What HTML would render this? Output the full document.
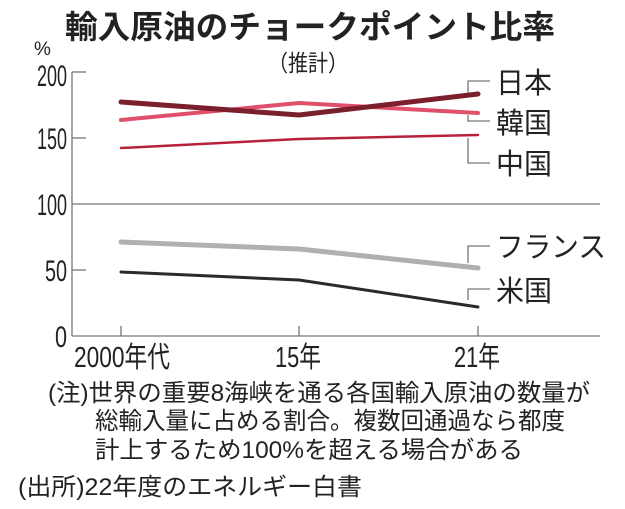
<!DOCTYPE html>
<html><head><meta charset="utf-8"><style>
html,body{margin:0;padding:0;background:#fff;}
svg{display:block;}
text{font-family:"Liberation Sans","Noto Sans CJK JP",sans-serif;fill:#222;}
</style></head><body>
<svg width="625" height="509" viewBox="0 0 625 509" xmlns="http://www.w3.org/2000/svg">
<text x="65" y="38" font-size="32" font-weight="bold" textLength="490" lengthAdjust="spacingAndGlyphs">輸入原油のチョークポイント比率</text>
<text x="268" y="71" font-size="23" textLength="80" lengthAdjust="spacingAndGlyphs">（推計）</text>
<text x="34" y="55" font-size="19">%</text>
<g font-size="30" text-anchor="end">
<text x="67" y="86" textLength="30" lengthAdjust="spacingAndGlyphs">200</text>
<text x="67" y="149" textLength="30" lengthAdjust="spacingAndGlyphs">150</text>
<text x="67" y="215" textLength="30" lengthAdjust="spacingAndGlyphs">100</text>
<text x="67" y="281" textLength="22" lengthAdjust="spacingAndGlyphs">50</text>
<text x="67" y="347" textLength="12" lengthAdjust="spacingAndGlyphs">0</text>
</g>
<g stroke="#777" stroke-width="1.3" fill="none">
<line x1="72" y1="72" x2="72" y2="336"/>
<line x1="72" y1="336" x2="600" y2="336"/>
<line x1="72" y1="204" x2="600" y2="204"/>
<line x1="72" y1="72" x2="86" y2="72"/>
<line x1="72" y1="138" x2="86" y2="138"/>
<line x1="72" y1="270" x2="86" y2="270"/>
<line x1="121" y1="326" x2="121" y2="336"/>
<line x1="299" y1="326" x2="299" y2="336"/>
<line x1="478" y1="326" x2="478" y2="336"/>
<polyline points="490,81 468,81 468,97"/>
<polyline points="468,115 468,121 490,121"/>
<polyline points="468,138 468,163 490,163"/>
<polyline points="490,246 468,246 468,263"/>
<polyline points="490,289 468,289 468,300"/>
</g>
<g font-size="29" text-anchor="middle">
<text x="122" y="367" textLength="96" lengthAdjust="spacingAndGlyphs">2000年代</text>
<text x="298" y="367" textLength="46" lengthAdjust="spacingAndGlyphs">15年</text>
<text x="477" y="367" textLength="46" lengthAdjust="spacingAndGlyphs">21年</text>
</g>
<g fill="none" stroke-linejoin="round" stroke-linecap="round">
<polyline points="121,148 299,139 478,135" stroke="#b8203c" stroke-width="2.5"/>
<polyline points="121,120 299,103 478,113" stroke="#e0506a" stroke-width="4"/>
<polyline points="121,102 299,115 478,94" stroke="#7a1f2b" stroke-width="5"/>
<polyline points="121,242 299,249 478,268" stroke="#b0b0b0" stroke-width="5"/>
<polyline points="121,272 299,280 478,307" stroke="#2a2a2a" stroke-width="3"/>
</g>
<g font-size="29">
<text x="496" y="93" textLength="56" lengthAdjust="spacingAndGlyphs">日本</text>
<text x="496" y="133" textLength="56" lengthAdjust="spacingAndGlyphs">韓国</text>
<text x="496" y="174" textLength="56" lengthAdjust="spacingAndGlyphs">中国</text>
<text x="496" y="257" textLength="110" lengthAdjust="spacingAndGlyphs">フランス</text>
<text x="496" y="301" textLength="56" lengthAdjust="spacingAndGlyphs">米国</text>
</g>
<g font-size="24">
<text x="48" y="401" textLength="542" lengthAdjust="spacingAndGlyphs">(注)世界の重要8海峡を通る各国輸入原油の数量が</text>
<text x="95" y="429" textLength="470" lengthAdjust="spacingAndGlyphs">総輸入量に占める割合。複数回通過なら都度</text>
<text x="95" y="458" textLength="428" lengthAdjust="spacingAndGlyphs">計上するため100%を超える場合がある</text>
<text x="18" y="495" textLength="344" lengthAdjust="spacingAndGlyphs">(出所)22年度のエネルギー白書</text>
</g>
</svg>
</body></html>
